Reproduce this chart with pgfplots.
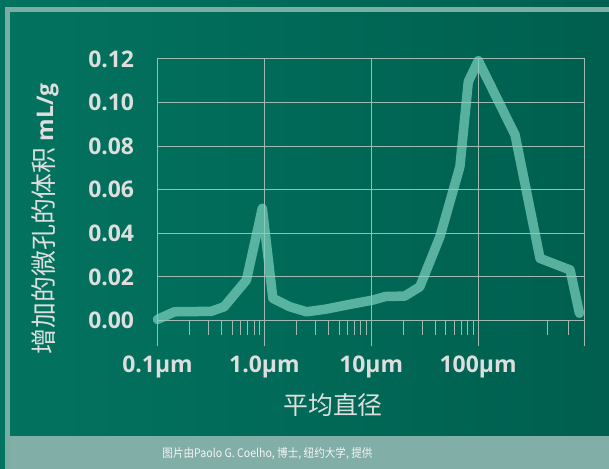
\documentclass[border=0pt]{standalone}
\usepackage{pgfplots}
\pgfplotsset{compat=1.18}
\usepackage{fontspec}
\setmainfont{Open Sans}
\newfontfamily\cjk{Noto Sans CJK SC}
\definecolor{bgl}{HTML}{02735F}
\definecolor{bgr}{HTML}{005F4F}
\definecolor{framec}{HTML}{7AAEA4}
\definecolor{bandc}{HTML}{82AEA8}
\definecolor{gridc}{HTML}{9FBAB2}
\definecolor{labc}{HTML}{DEDEDE}
\definecolor{linec}{HTML}{7DD3BF}
\begin{document}
\begin{tikzpicture}[x=1bp,y=1bp]
\shade[left color=bgl,right color=bgr] (0,0) rectangle (609,469);
\fill[bandc] (10,0) rectangle (609,32.5);
\draw[framec,line width=4.5bp] (7.5,0) -- (7.5,459.3) -- (609,459.3);
\begin{axis}[
  at={(157.5bp,148.5bp)}, anchor=south west,
  scale only axis, width=426.5bp, height=261.5bp,
  xmode=log, xmin=0.1, xmax=980, ymin=0, ymax=0.12,
  axis line style={gridc,line width=1bp},
  xmajorgrids, ymajorgrids,
  major grid style={gridc,line width=1bp},
  xtick={0.1,1,10,100},
  xticklabels={0.1µm,1.0µm,10µm,100µm},
  extra x ticks={980}, extra x tick labels={},
  minor xtick={0.2,0.3,0.4,0.5,0.6,0.7,0.8,0.9,2,3,4,5,6,7,8,9,20,30,40,50,60,70,80,90,450,700},
  xtick pos=bottom, ytick pos=left,
  tick align=outside,
  major tick length=26bp, minor tick length=15bp,
  every tick/.style={gridc,line width=1bp},
  ytick={0,0.02,0.04,0.06,0.08,0.10,0.12},
  ytick style={draw=none},
  yticklabel style={/pgf/number format/fixed,/pgf/number format/fixed zerofill,/pgf/number format/precision=2},
  /pgf/number format/assume math mode=true,
  ticklabel style={font=\fontsize{23}{25}\selectfont\bfseries, text=labc},
  xticklabel style={yshift=-6bp},
  yticklabel style={xshift=6bp},
  clip=false,
]
\addplot[linec, opacity=0.7, line width=9.5bp, line join=round, line cap=round] table {
x y
0.1 0.0005
0.144 0.004
0.318 0.0042
0.42 0.0063
0.68 0.0186
0.957 0.0515
1.2 0.0102
1.73 0.0063
2.48 0.0040
3.76 0.0052
5.87 0.0071
10.4 0.0094
13.6 0.0110
20.6 0.0112
28.5 0.0155
44 0.0385
67.6 0.0706
81 0.1096
100.5 0.1192
222 0.0851
380 0.0285
726 0.0232
888 0.0033
};
\end{axis}
\node[rotate=90, text=labc, inner sep=0] at (45,250) {\fontsize{26}{28}\selectfont\cjk 增加的微孔的体积\ \rmfamily\bfseries\fontsize{23}{25}\selectfont mL/g};
\node[text=labc, inner sep=0] at (333,64) {\fontsize{25}{27}\selectfont\cjk 平均直径};
\node[text=white!92!gray, inner sep=0, xscale=0.9] at (267.5,15) {\fontsize{11.8}{13}\selectfont\cjk 图片由Paolo G. Coelho, 博士, 纽约大学, 提供};
\pgfresetboundingbox
\path (0,0) rectangle (609,469);
\end{tikzpicture}
\end{document}
